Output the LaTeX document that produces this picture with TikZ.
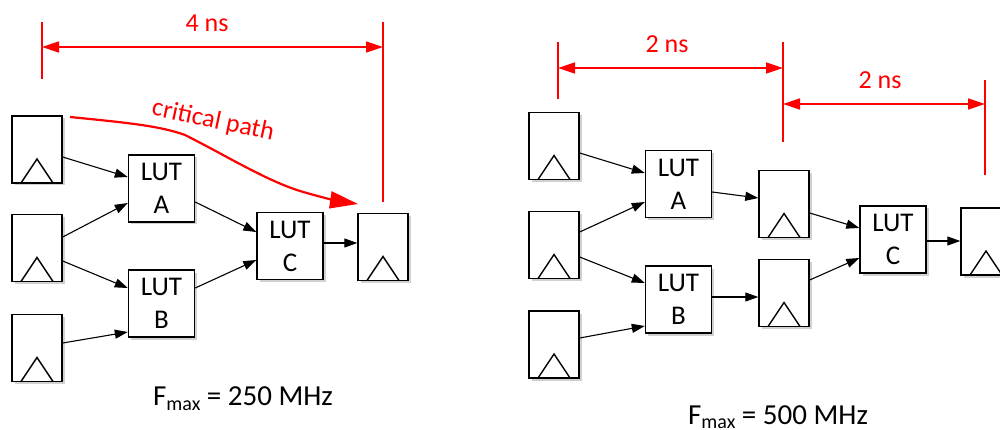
\documentclass[tikz,border=0pt]{standalone}
\usepackage{fontspec}
\setmainfont{Carlito}
\usetikzlibrary{arrows.meta,shadows}
\begin{document}
\begin{tikzpicture}[x=1pt,y=-1pt,
  boxshadow/.style={drop shadow={shadow xshift=2.5pt,shadow yshift=-2.5pt,opacity=0.18,fill=black}},
  ff/.style={draw,line width=1.4pt,fill=white,minimum width=50pt,minimum height=67pt,inner sep=0pt,boxshadow,
    path picture={\draw[line width=1.4pt,line join=miter]
      ([xshift=9pt]path picture bounding box.south west) --
      ([xshift=25pt,yshift=24pt]path picture bounding box.south west) --
      ([xshift=41pt]path picture bounding box.south west);}},
  lut/.style={draw,line width=1.4pt,fill=white,minimum width=66pt,minimum height=67pt,inner sep=0pt,align=center,
    font=\fontsize{27}{33}\selectfont,boxshadow},
  wire/.style={line width=1.1pt,-{Triangle[length=13pt,width=9pt]}},
  dim/.style={red,line width=1.6pt,{Triangle[length=17pt,width=11pt]}-{Triangle[length=17pt,width=11pt]}},
  tick/.style={red,line width=1.6pt},
  crit/.style={red,line width=2.2pt,-{Triangle[length=28pt,width=17pt]}},
  lbl/.style={red,font=\fontsize{26}{26}\selectfont,anchor=base},
  fm/.style={font=\fontsize{29}{29}\selectfont,anchor=base}]
\useasboundingbox (0,0) rectangle (1000,430);
% ---------- left circuit ----------
\node[ff] (f1) at (37,149.5) {};
\node[ff] (f2) at (37,248) {};
\node[ff] (f3) at (37,348) {};
\node[lut] (la) at (161.5,188.5) {LUT\\A};
\node[lut] (lb) at (161.5,303.5) {LUT\\B};
\node[lut] (lc) at (290,246) {LUT\\C};
\node[ff] (fo) at (383,247) {};
\draw[wire] (f1.east|-0,157) -- (la.west|-0,177);
\draw[wire] (f2.east|-0,237) -- (la.west|-0,203);
\draw[wire] (f2.east|-0,261) -- (lb.west|-0,288);
\draw[wire] (f3.east|-0,343) -- (lb.west|-0,332);
\draw[wire] (la.east|-0,202) -- (lc.west|-0,232);
\draw[wire] (lb.east|-0,288) -- (lc.west|-0,260);
\draw[wire] (lc.east|-0,243) -- (fo.west|-0,243);
% dimension
\coordinate (t1a) at (42,22); \coordinate (t1b) at (42,79);
\coordinate (t2a) at (383,22); \coordinate (t2b) at (383,202);
\draw[tick] (t1a) -- (t1b);
\draw[tick] (t2a) -- (t2b);
\coordinate (d1a) at (42,47); \coordinate (d1b) at (383,47);
\draw[dim] (d1a) -- (d1b);
\node[lbl] (ns4) at (207,32) {4 ns};
% critical path
\coordinate (c0) at (70,117);
\coordinate (c1) at (185,135);
\coordinate (c2) at (300,191);
\coordinate (c3) at (358,204);
\draw[crit] (c0) .. controls (130,123) and (160,126) .. (c1)
  .. controls (225,155) and (265,180) .. (c2)
  .. controls (320,197) and (338,201) .. (c3);
\node[red,font=\fontsize{26}{26}\selectfont,rotate=-12] (cp) at (213,121) {critical path};
\node[fm] (fl) at (243,405) {F\raisebox{-0.2em}{\fontsize{20}{20}\selectfont max} = 250 MHz};
% ---------- right circuit ----------
\node[ff] (r1) at (554,146) {};
\node[ff] (r2) at (554,245) {};
\node[ff] (r3) at (554,344.5) {};
\node[lut] (ra) at (678.5,184) {LUT\\A};
\node[lut] (rb) at (678.5,299.5) {LUT\\B};
\node[ff] (mt) at (784,204) {};
\node[ff] (mb) at (784,293) {};
\node[lut] (rc) at (893,239.5) {LUT\\C};
\node[ff] (ro) at (986,241.5) {};
\draw[wire] (r1.east|-0,153) -- (ra.west|-0,173);
\draw[wire] (r2.east|-0,232) -- (ra.west|-0,202);
\draw[wire] (r2.east|-0,257) -- (rb.west|-0,283);
\draw[wire] (r3.east|-0,338) -- (rb.west|-0,326);
\draw[wire] (ra.east|-0,192) -- (mt.west|-0,198);
\draw[wire] (mt.east|-0,213) -- (rc.west|-0,228);
\draw[wire] (rb.east|-0,297) -- (mb.west|-0,297);
\draw[wire] (mb.east|-0,280) -- (rc.west|-0,258);
\draw[wire] (rc.east|-0,241) -- (ro.west|-0,241);
% dimensions
\coordinate (u1a) at (558,42); \coordinate (u1b) at (558,99);
\coordinate (u2a) at (783,42); \coordinate (u2b) at (783,142);
\coordinate (u3a) at (985,80); \coordinate (u3b) at (985,175);
\draw[tick] (u1a) -- (u1b);
\draw[tick] (u2a) -- (u2b);
\draw[tick] (u3a) -- (u3b);
\coordinate (e1a) at (558,68); \coordinate (e1b) at (783,68);
\coordinate (e2a) at (783,104); \coordinate (e2b) at (985,104);
\draw[dim] (e1a) -- (e1b);
\draw[dim] (e2a) -- (e2b);
\node[lbl] (ns2a) at (667,53) {2 ns};
\node[lbl] (ns2b) at (880,89) {2 ns};
\node[fm] (fr) at (778,424) {F\raisebox{-0.15em}{\fontsize{20}{20}\selectfont max} = 500 MHz};
\end{tikzpicture}
\end{document}
